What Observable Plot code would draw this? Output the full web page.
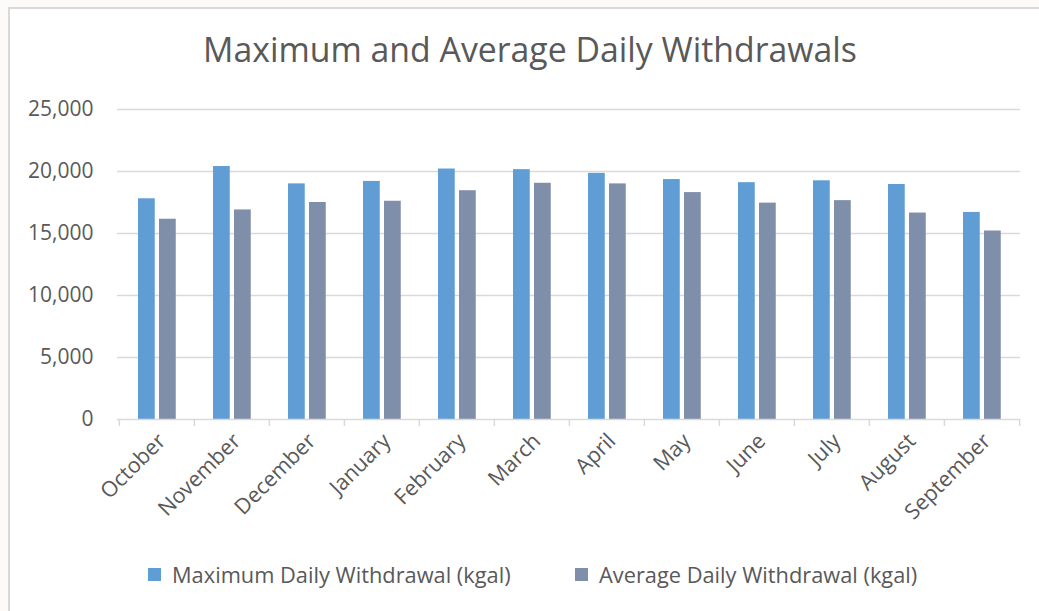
<!DOCTYPE html>
<html>
<head>
<meta charset="utf-8">
<script src="https://cdn.jsdelivr.net/npm/d3@7"></script>
<script src="https://cdn.jsdelivr.net/npm/@observablehq/plot@0.6"></script>
<style>
  html, body { margin: 0; padding: 0; background: #fcfbf9; }
  body { width: 1039px; height: 611px; overflow: hidden; position: relative; font-family: "Open Sans", sans-serif; }
  #frame { position: absolute; left: 8px; top: 7px; width: 1060px; height: 640px; background: #fff; border: 2px solid #d9d9d9; box-sizing: border-box; }
  #title { position: absolute; left: 0; width: 1060px; top: 26px; text-align: center; font-size: 33.8px; color: #595959; white-space: nowrap; }
  #chart { position: absolute; left: 0; top: 90px; }
  #legend { position: absolute; top: 560px; left: 0; font-size: 21.8px; color: #595959; white-space: nowrap; }
  .item { position: absolute; display: flex; align-items: center; }
  .sw { width: 13px; height: 13px; margin-right: 11px; }
</style>
</head>
<body>
<div id="frame"></div>
<div id="title">Maximum and Average Daily Withdrawals</div>
<div id="chart"></div>
<div id="legend"></div>
<script>
const months = ["October","November","December","January","February","March","April","May","June","July","August","September"];
const maxVals = [17800, 20400, 19000, 19200, 20200, 20150, 19850, 19350, 19100, 19250, 18950, 16700];
const avgVals = [16150, 16900, 17500, 17600, 18450, 19050, 19000, 18300, 17450, 17650, 16650, 15200];
const yTicks = [0, 5000, 10000, 15000, 20000, 25000];
const seriesNames = ["Maximum Daily Withdrawal (kgal)", "Average Daily Withdrawal (kgal)"];
const colors = ["#5f9dd4", "#808fa9"];

const maxData = months.map((m, i) => ({month: m, value: maxVals[i]}));
const avgData = months.map((m, i) => ({month: m, value: avgVals[i]}));

const W = 1039, mL = 117, mR = 19;
const bw = (W - mL - mR) / months.length;

const plot = Plot.plot({
  width: W,
  height: 449,
  marginLeft: mL,
  marginRight: mR,
  marginTop: 19,
  marginBottom: 120,
  style: {fontFamily: "'Open Sans', sans-serif", color: "#595959", background: "transparent", overflow: "visible"},
  x: {domain: months, padding: 0, axis: null, label: null},
  y: {domain: [0, 25000], axis: null, label: null},
  marks: [
    Plot.ruleY(yTicks.filter(d => d > 0), {stroke: "#d9d9d9", strokeWidth: 1.5}),
    Plot.barY(maxData, {x: "month", y: "value", fill: colors[0], insetLeft: 19, insetRight: bw - 36}),
    Plot.barY(avgData, {x: "month", y: "value", fill: colors[1], insetLeft: 40, insetRight: bw - 57}),
    Plot.ruleY([0], {stroke: "#d9d9d9", strokeWidth: 1.5}),
    Plot.ruleX(months, {x: d => d, y1: 0, y2: 0, insetBottom: -7, dx: -bw / 2, stroke: "#d9d9d9", strokeWidth: 1.5}),
    Plot.ruleX(months.slice(-1), {x: d => d, y1: 0, y2: 0, insetBottom: -7, dx: bw / 2, stroke: "#d9d9d9", strokeWidth: 1.5}),
    Plot.axisY({ticks: yTicks, tickFormat: d3.format(","), tickSize: 0, tickPadding: 24, fontSize: 21, fill: "#595959", label: null}),
    Plot.axisX({tickRotate: -45, tickSize: 0, tickPadding: 18, dx: 5, fontSize: 21.5, fill: "#595959", label: null})
  ]
});
document.getElementById("chart").appendChild(plot);

const legend = document.getElementById("legend");
const lx = [148, 575];
seriesNames.forEach((n, i) => {
  const it = document.createElement("div");
  it.className = "item";
  it.style.left = lx[i] + "px";
  it.innerHTML = `<span class="sw" style="background:${colors[i]}"></span><span>${n}</span>`;
  legend.appendChild(it);
});
</script>
</body>
</html>
